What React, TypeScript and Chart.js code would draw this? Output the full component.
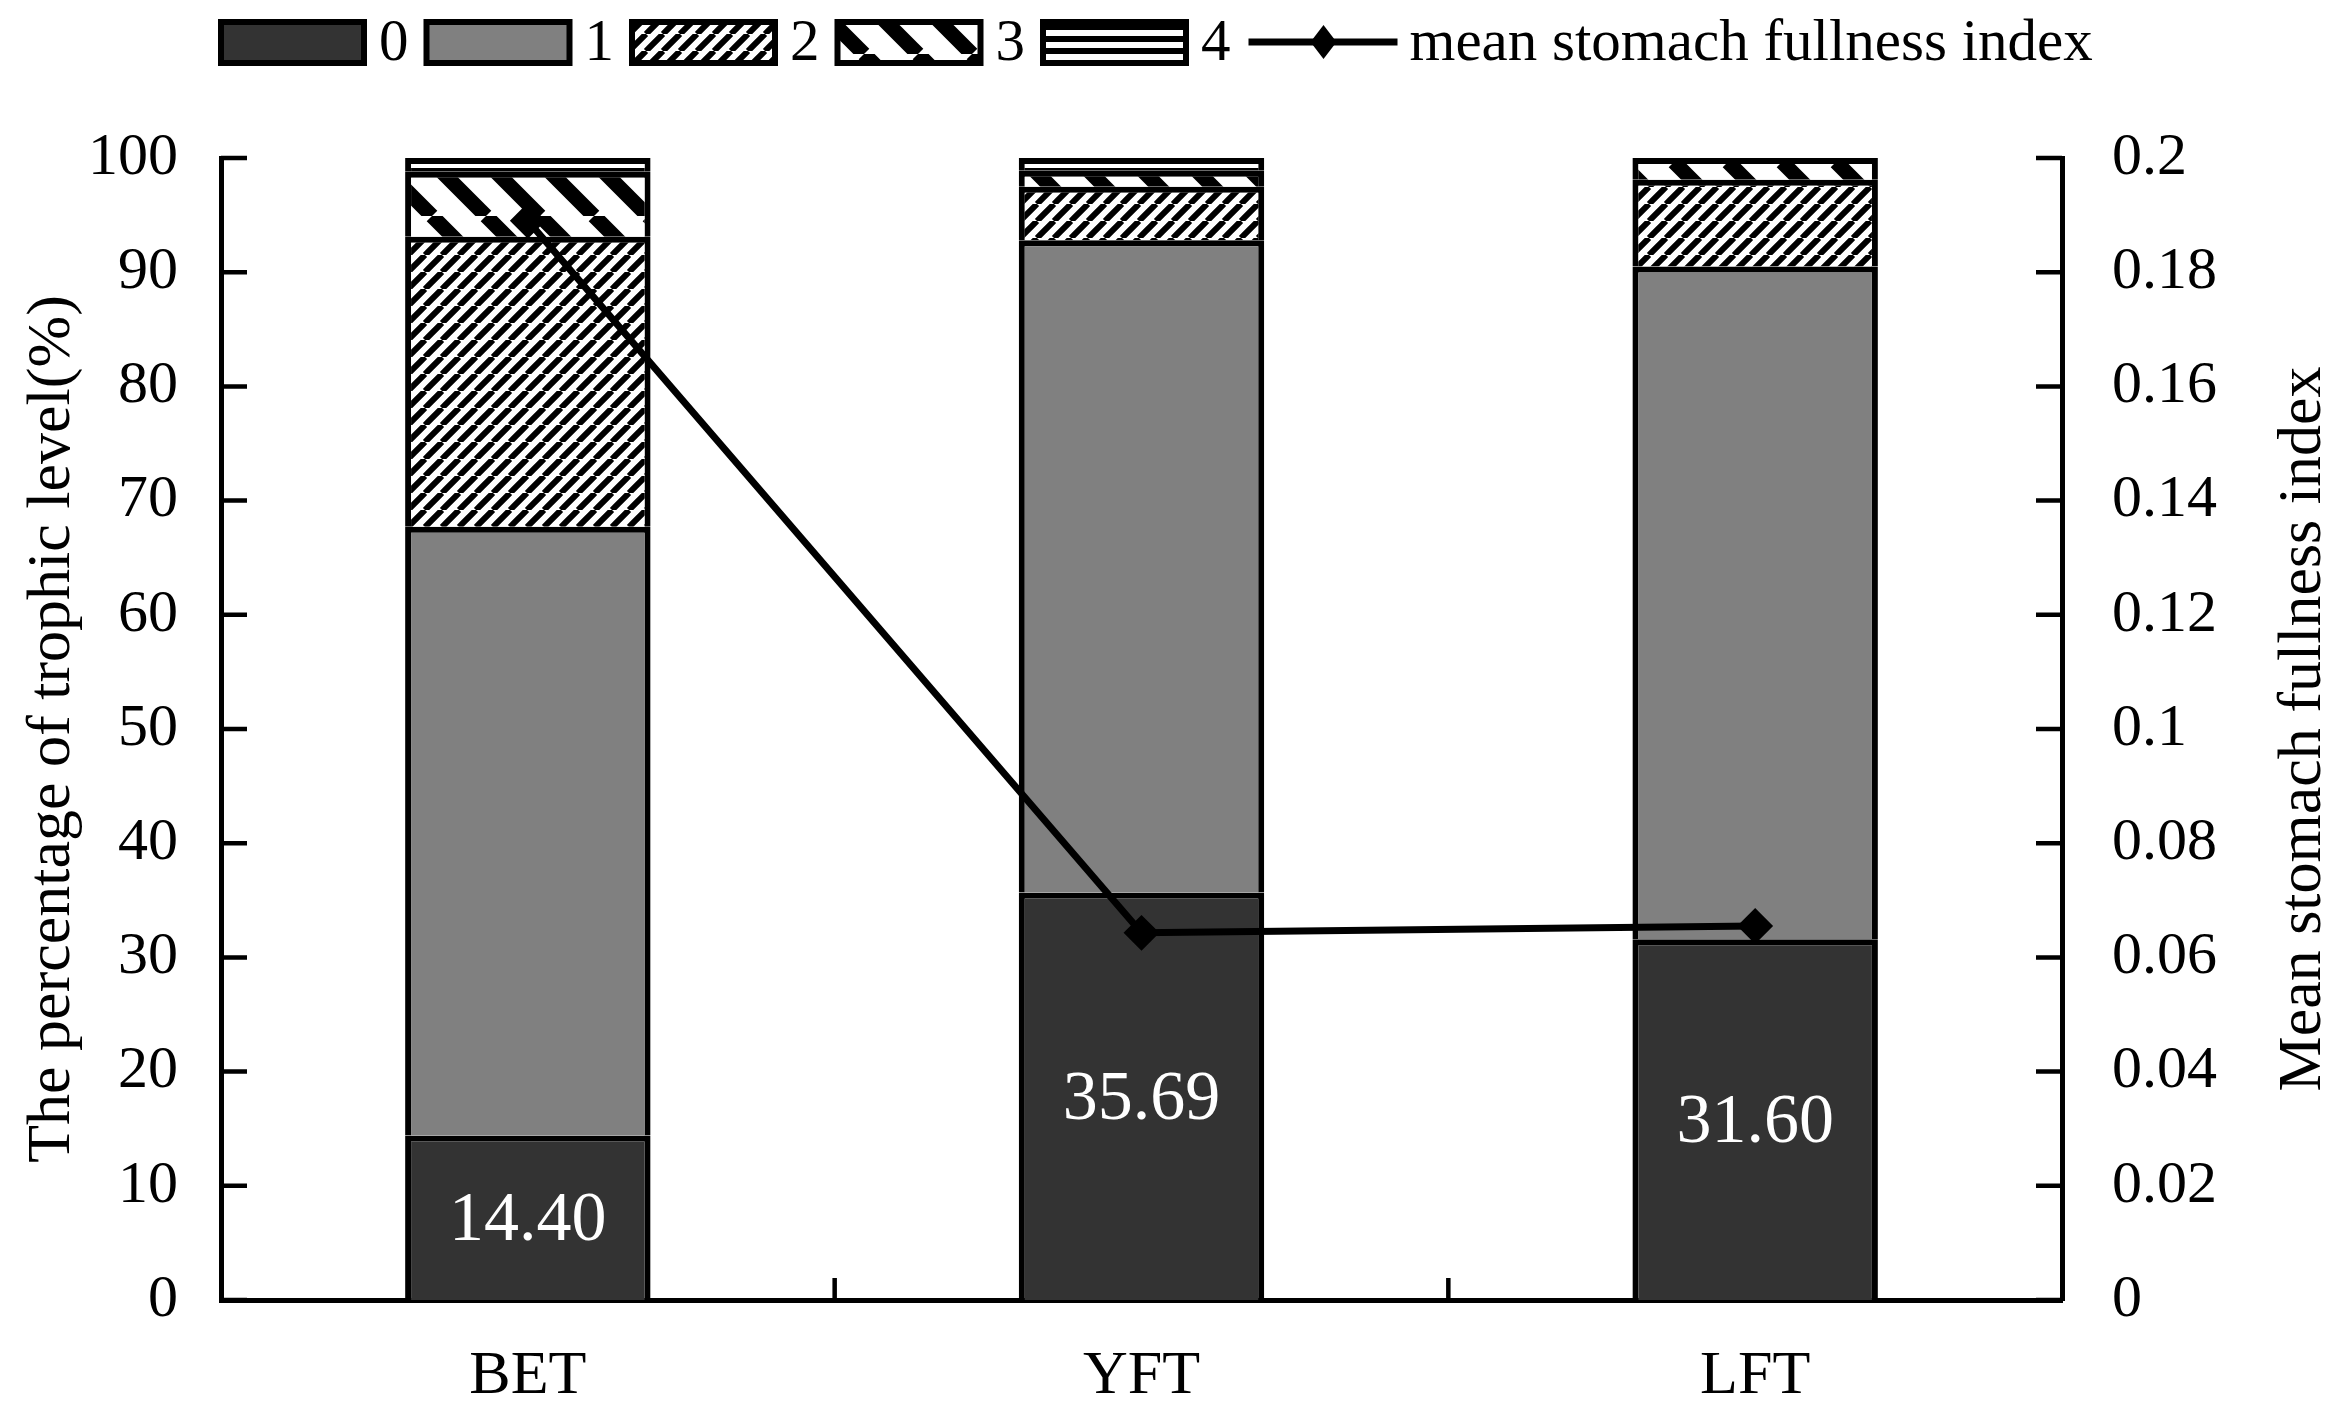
import React, { useEffect, useRef } from 'react';
import { Chart, registerables } from 'chart.js';

Chart.register(...registerables);

// categories
const species = ['BET', 'YFT', 'LFT'];
// percentage of each trophic level (stacked)
const level0 = [14.4, 35.69, 31.6];
const level1 = [53.3, 57.1, 58.9];
const level2 = [25.4, 4.7, 7.6];
const level3 = [5.7, 1.4, 1.9];
const level4 = [1.2, 1.1, 0];
const levelNames = ['0', '1', '2', '3', '4'];
// mean stomach fullness index (right axis)
const fullnessIndex = [0.189, 0.0643, 0.0655];
const lineName = 'mean stomach fullness index';

const leftTitle = 'The percentage of trophic level(%)';
const rightTitle = 'Mean stomach fullness index';

const FONT = '"Liberation Serif", "Times New Roman", serif';

function makePattern(size: number, draw: (c: CanvasRenderingContext2D, s: number) => void) {
  const cv = document.createElement('canvas');
  cv.width = size;
  cv.height = size;
  const c = cv.getContext('2d')!;
  c.fillStyle = '#fff';
  c.fillRect(0, 0, size, size);
  c.fillStyle = '#000';
  c.strokeStyle = '#000';
  draw(c, size);
  return c.createPattern(cv, 'repeat')!;
}

const overlayPlugin = {
  id: 'overlay',
  afterDraw(chart: any) {
    const { ctx, chartArea } = chart;
    const yScale = chart.scales.y;
    const y1Scale = chart.scales.y1;
    const xScale = chart.scales.x;
    ctx.save();

    // inward tick marks
    ctx.strokeStyle = '#000';
    ctx.lineWidth = 4.5;
    ctx.beginPath();
    yScale.ticks.forEach((_t: any, i: number) => {
      const py = yScale.getPixelForTick(i);
      ctx.moveTo(chartArea.left, py);
      ctx.lineTo(chartArea.left + 26, py);
    });
    y1Scale.ticks.forEach((_t: any, i: number) => {
      const py = y1Scale.getPixelForTick(i);
      ctx.moveTo(chartArea.right - 26, py);
      ctx.lineTo(chartArea.right, py);
    });
    for (let i = 0; i < species.length - 1; i++) {
      const px = xScale.getPixelForValue(i + 0.5);
      ctx.moveTo(px, chartArea.bottom);
      ctx.lineTo(px, chartArea.bottom - 22);
    }
    ctx.stroke();

    // values inside the level-0 segments
    const meta = chart.getDatasetMeta(0);
    ctx.fillStyle = '#fff';
    ctx.font = `70px ${FONT}`;
    ctx.textAlign = 'center';
    ctx.textBaseline = 'middle';
    meta.data.forEach((el: any, i: number) => {
      const { x, y, base } = el.getProps(['x', 'y', 'base'], true);
      ctx.fillText(level0[i].toFixed(2), x, (y + base) / 2 + 4);
    });

    // right axis title, reading bottom to top
    ctx.fillStyle = '#000';
    ctx.font = `62px ${FONT}`;
    ctx.save();
    ctx.translate(chart.width - 42, (chartArea.top + chartArea.bottom) / 2);
    ctx.rotate(-Math.PI / 2);
    ctx.fillText(rightTitle, 0, 0);
    ctx.restore();

    // legend
    const ds = chart.data.datasets;
    let lx = 221;
    const cy = 42;
    ctx.font = `59px ${FONT}`;
    ctx.textAlign = 'left';
    ctx.textBaseline = 'middle';
    for (let i = 0; i < levelNames.length; i++) {
      ctx.fillStyle = ds[i].backgroundColor;
      ctx.fillRect(lx, cy - 20, 143, 41);
      ctx.strokeStyle = '#000';
      ctx.lineWidth = 6;
      ctx.strokeRect(lx, cy - 20, 143, 41);
      lx += 143 + 15;
      ctx.fillStyle = '#000';
      ctx.fillText(levelNames[i], lx, cy + 2);
      lx += ctx.measureText(levelNames[i]).width + 18;
    }
    ctx.strokeStyle = '#000';
    ctx.lineWidth = 7;
    ctx.beginPath();
    ctx.moveTo(lx, cy);
    ctx.lineTo(lx + 149, cy);
    ctx.stroke();
    const dx = lx + 75;
    ctx.beginPath();
    ctx.moveTo(dx, cy - 17);
    ctx.lineTo(dx + 13, cy);
    ctx.lineTo(dx, cy + 17);
    ctx.lineTo(dx - 13, cy);
    ctx.closePath();
    ctx.fillStyle = '#000';
    ctx.fill();
    lx += 149 + 12;
    ctx.fillText(lineName, lx, cy + 2);

    ctx.restore();
  },
};

const App: React.FC = () => {
  const chartRef = useRef<HTMLCanvasElement>(null);
  const chartInstance = useRef<Chart | null>(null);

  useEffect(() => {
    if (!chartRef.current) return;
    const ctx = chartRef.current.getContext('2d');
    if (!ctx) return;
    if (chartInstance.current) chartInstance.current.destroy();

    const hatch = makePattern(17, (c, s) => {
      c.lineWidth = 6;
      c.beginPath();
      for (let k = -1; k <= 1; k++) {
        c.moveTo(k * s, s);
        c.lineTo(k * s + s, 0);
      }
      c.stroke();
    });
    const wideStripes = makePattern(54, (c, s) => {
      c.lineWidth = 15;
      c.beginPath();
      for (let k = -1; k <= 1; k++) {
        c.moveTo(k * s, 0);
        c.lineTo(k * s + s, s);
      }
      c.stroke();
    });
    const hLines = makePattern(12, (c) => {
      c.fillRect(0, 0, 12, 6);
    });

    const levels = [level0, level1, level2, level3, level4];
    const fills: (string | CanvasPattern)[] = ['#333333', '#808080', hatch, wideStripes, hLines];

    const barSets = levels.map((vals, i) => ({
      type: 'bar' as const,
      label: levelNames[i],
      data: vals,
      backgroundColor: fills[i],
      borderColor: '#000',
      borderWidth: 6,
      yAxisID: 'y',
      stack: 'levels',
      order: 1,
      barPercentage: 0.4,
      categoryPercentage: 1,
    }));

    chartInstance.current = new Chart(ctx, {
      type: 'bar',
      data: {
        labels: species,
        datasets: [
          ...barSets,
          {
            type: 'line' as const,
            label: lineName,
            data: fullnessIndex,
            yAxisID: 'y1',
            borderColor: '#000',
            borderWidth: 7,
            backgroundColor: '#000',
            pointStyle: 'rectRot',
            pointRadius: 13,
            pointBackgroundColor: '#000',
            pointBorderColor: '#000',
            tension: 0,
            order: 0,
          } as any,
        ],
      },
      options: {
        responsive: true,
        maintainAspectRatio: false,
        animation: false,
        layout: { padding: { top: 158, left: 0, right: 0, bottom: 0 } },
        plugins: {
          legend: { display: false },
          tooltip: { enabled: false },
        },
        scales: {
          x: {
            stacked: true,
            grid: { display: false, drawTicks: false },
            border: { color: '#000', width: 5 },
            ticks: { color: '#000', padding: 40, font: { family: FONT, size: 62 } },
            afterFit: (s: any) => {
              s.height = 121;
            },
          },
          y: {
            stacked: true,
            position: 'left',
            min: 0,
            max: 100,
            grid: { display: false, drawTicks: false },
            border: { color: '#000', width: 5 },
            ticks: { stepSize: 10, color: '#000', padding: 43, font: { family: FONT, size: 60 } },
            title: {
              display: true,
              text: leftTitle,
              color: '#000',
              padding: { top: 16, bottom: 0 },
              font: { family: FONT, size: 62 },
            },
            afterFit: (s: any) => {
              s.width = 221;
            },
          },
          y1: {
            position: 'right',
            min: 0,
            max: 0.2,
            grid: { display: false, drawTicks: false },
            border: { color: '#000', width: 5 },
            ticks: {
              stepSize: 0.02,
              color: '#000',
              padding: 50,
              font: { family: FONT, size: 60 },
              callback: (v: any) => String(+Number(v).toFixed(2)),
            },
            afterFit: (s: any) => {
              s.width = 284;
            },
          },
        },
      } as any,
      plugins: [overlayPlugin],
    });

    return () => {
      if (chartInstance.current) {
        chartInstance.current.destroy();
        chartInstance.current = null;
      }
    };
  }, []);

  return (
    <div style={{ position: 'absolute', left: 0, top: 0, width: 2346, height: 1421, background: '#fff' }}>
      <canvas ref={chartRef} />
    </div>
  );
};

export default App;
